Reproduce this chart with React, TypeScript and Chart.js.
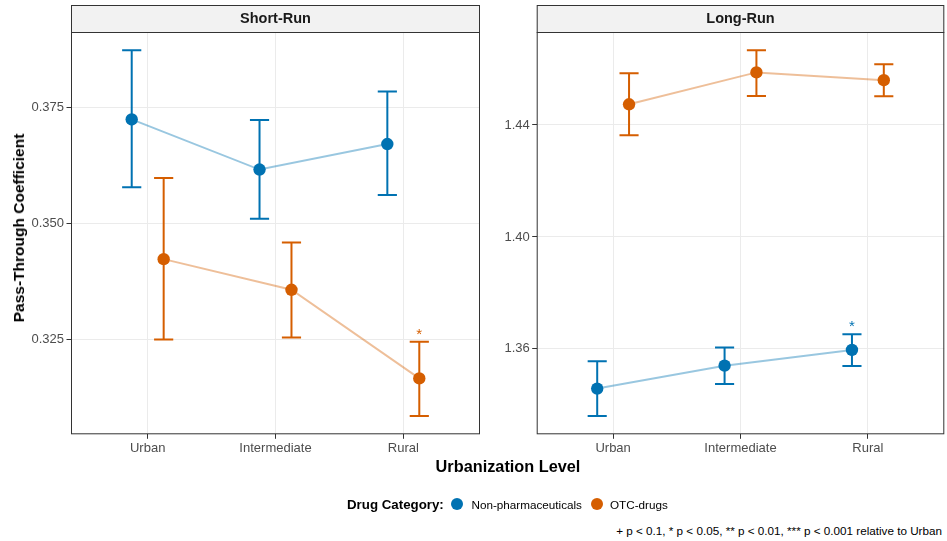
import React, { useEffect, useRef } from 'react';
import { Chart, registerables } from 'chart.js';

Chart.register(...registerables);

const FONT = '"Liberation Sans", Arial, Helvetica, sans-serif';

// ---- data ----
const categories = ['Urban', 'Intermediate', 'Rural'];
const seriesNames = ['Non-pharmaceuticals', 'OTC-drugs'];
const seriesColors = ['#0072B2', '#D55E00'];
const lineColors = ['rgba(0,114,178,0.4)', 'rgba(213,94,0,0.4)'];

// Short-Run
const srNonPharma = [0.3724, 0.3616, 0.3671];
const srNonPharmaLo = [0.3578, 0.351, 0.3561];
const srNonPharmaHi = [0.3873, 0.3723, 0.3784];
const srNonPharmaSig = ['', '', ''];
const srOtc = [0.3423, 0.3357, 0.3166];
const srOtcLo = [0.325, 0.3254, 0.3085];
const srOtcHi = [0.3598, 0.3459, 0.3245];
const srOtcSig = ['', '', '*'];
const srTicks = [0.325, 0.35, 0.375];

// Long-Run
const lrNonPharma = [1.3458, 1.354, 1.3596];
const lrNonPharmaLo = [1.336, 1.3474, 1.3539];
const lrNonPharmaHi = [1.3556, 1.3605, 1.3652];
const lrNonPharmaSig = ['', '', '*'];
const lrOtc = [1.4474, 1.4588, 1.456];
const lrOtcLo = [1.4363, 1.4504, 1.4503];
const lrOtcHi = [1.4585, 1.4667, 1.4617];
const lrOtcSig = ['', '', ''];
const lrTicks = [1.36, 1.4, 1.44];

const dodge = [-0.125, 0.125];
const capHalf = 0.075;

type Series = { est: number[]; lo: number[]; hi: number[]; sig: string[] };

const facetPlugin = {
  id: 'facetDecor',
  beforeDatasetDraw(chart: any, args: any) {
    const ds: any = chart.data.datasets[args.index];
    if (!ds.errLo) return;
    const { ctx } = chart;
    const xs = chart.scales.x;
    const ys = chart.scales.y;
    ctx.save();
    ctx.strokeStyle = ds.errColor;
    ctx.lineWidth = 2;
    ctx.lineCap = 'butt';
    ds.data.forEach((p: any, i: number) => {
      const x = xs.getPixelForValue(p.x);
      const xl = xs.getPixelForValue(p.x - capHalf);
      const xr = xs.getPixelForValue(p.x + capHalf);
      const yl = ys.getPixelForValue(ds.errLo[i]);
      const yh = ys.getPixelForValue(ds.errHi[i]);
      ctx.beginPath();
      ctx.moveTo(x, yl);
      ctx.lineTo(x, yh);
      ctx.moveTo(xl, yl);
      ctx.lineTo(xr, yl);
      ctx.moveTo(xl, yh);
      ctx.lineTo(xr, yh);
      ctx.stroke();
      if (ds.sig[i]) {
        ctx.fillStyle = ds.errColor;
        ctx.font = `15px ${FONT}`;
        ctx.textAlign = 'center';
        ctx.textBaseline = 'alphabetic';
        ctx.fillText(ds.sig[i], x, yh - 3);
      }
    });
    ctx.restore();
  },
  afterDraw(chart: any, _args: any, opts: any) {
    const { ctx, chartArea: a } = chart;
    ctx.save();
    // strip
    ctx.fillStyle = '#F2F2F2';
    ctx.fillRect(a.left, 5, a.right - a.left, a.top - 5);
    ctx.strokeStyle = '#333333';
    ctx.lineWidth = 1;
    ctx.strokeRect(a.left + 0.5, 5.5, a.right - a.left - 1, a.top - 5);
    ctx.fillStyle = '#1A1A1A';
    ctx.font = `bold 14.5px ${FONT}`;
    ctx.textAlign = 'center';
    ctx.textBaseline = 'middle';
    ctx.fillText(opts.title, (a.left + a.right) / 2, (5 + a.top) / 2 + 0.5);
    // panel border
    ctx.strokeRect(a.left + 0.5, a.top + 0.5, a.right - a.left - 1, a.bottom - a.top - 1);
    ctx.restore();
  },
};

function buildChart(
  canvas: HTMLCanvasElement,
  title: string,
  series: Series[],
  yTicks: number[],
  decimals: number,
  yWidth: number,
  padRight: number
) {
  const allLo = Math.min(...series.flatMap((s) => s.lo));
  const allHi = Math.max(...series.flatMap((s) => s.hi));
  const span = allHi - allLo;
  const yMin = allLo - 0.05 * span;
  const yMax = allHi + 0.05 * span;

  const lineSets = series.map((s, k) => ({
    label: seriesNames[k] + ' line',
    data: s.est.map((v, i) => ({ x: i + 1 + dodge[k], y: v })),
    showLine: true,
    borderColor: lineColors[k],
    borderWidth: 2,
    pointRadius: 0,
    pointHoverRadius: 0,
    order: 2,
  }));
  const pointSets = series.map((s, k) => ({
    label: seriesNames[k],
    data: s.est.map((v, i) => ({ x: i + 1 + dodge[k], y: v })),
    showLine: false,
    backgroundColor: seriesColors[k],
    borderColor: seriesColors[k],
    pointRadius: 6.2,
    pointHoverRadius: 6.2,
    pointBorderWidth: 0,
    order: 1,
    errLo: s.lo,
    errHi: s.hi,
    sig: s.sig,
    errColor: seriesColors[k],
  }));

  const tickFont = { family: FONT, size: 13 };

  return new Chart(canvas, {
    type: 'scatter',
    data: { datasets: [...lineSets, ...pointSets] as any },
    plugins: [facetPlugin as any],
    options: {
      animation: false,
      responsive: false,
      maintainAspectRatio: false,
      events: [],
      layout: { autoPadding: false, padding: { top: 32, left: 0, right: padRight, bottom: 0 } },
      plugins: {
        legend: { display: false },
        tooltip: { enabled: false },
        facetDecor: { title },
      } as any,
      scales: {
        x: {
          type: 'linear',
          min: 0.4,
          max: 3.6,
          afterBuildTicks: (s: any) => {
            s.ticks = categories.map((_, i) => ({ value: i + 1 }));
          },
          afterFit: (s: any) => {
            s.height = 45.7;
          },
          ticks: {
            autoSkip: false,
            maxRotation: 0,
            padding: 2,
            color: '#4D4D4D',
            font: tickFont,
            callback: (v: any) => categories[Math.round(v) - 1] ?? '',
          },
          grid: { color: '#EBEBEB', tickColor: '#333333', tickLength: 4.5, lineWidth: 1 },
          border: { display: false },
        },
        y: {
          type: 'linear',
          min: yMin,
          max: yMax,
          afterBuildTicks: (s: any) => {
            s.ticks = yTicks.map((v) => ({ value: v }));
          },
          afterFit: (s: any) => {
            s.width = yWidth;
          },
          ticks: {
            autoSkip: false,
            padding: 2.5,
            color: '#4D4D4D',
            font: tickFont,
            callback: (v: any) => Number(v).toFixed(decimals),
          },
          grid: { color: '#EBEBEB', tickColor: '#333333', tickLength: 4.5, lineWidth: 1 },
          border: { display: false },
        },
      },
    } as any,
  });
}

const Txt = ({
  x,
  y,
  size,
  bold,
  align = 'left',
  children,
}: {
  x: number;
  y: number;
  size: number;
  bold?: boolean;
  align?: 'left' | 'center' | 'right';
  children: React.ReactNode;
}) => {
  const lh = 20;
  const style: React.CSSProperties = {
    position: 'absolute',
    top: y - lh / 2,
    lineHeight: `${lh}px`,
    height: lh,
    fontSize: size,
    fontWeight: bold ? 'bold' : 'normal',
    whiteSpace: 'nowrap',
    color: '#000',
  };
  if (align === 'left') style.left = x;
  else if (align === 'right') style.right = 947 - x;
  else {
    style.left = x;
    style.transform = 'translateX(-50%)';
  }
  return <div style={style}>{children}</div>;
};

export default function App() {
  const leftRef = useRef<HTMLCanvasElement>(null);
  const rightRef = useRef<HTMLCanvasElement>(null);

  useEffect(() => {
    const c1 = buildChart(
      leftRef.current!,
      'Short-Run',
      [
        { est: srNonPharma, lo: srNonPharmaLo, hi: srNonPharmaHi, sig: srNonPharmaSig },
        { est: srOtc, lo: srOtcLo, hi: srOtcHi, sig: srOtcSig },
      ],
      srTicks,
      3,
      71,
      4
    );
    const c2 = buildChart(
      rightRef.current!,
      'Long-Run',
      [
        { est: lrNonPharma, lo: lrNonPharmaLo, hi: lrNonPharmaHi, sig: lrNonPharmaSig },
        { est: lrOtc, lo: lrOtcLo, hi: lrOtcHi, sig: lrOtcSig },
      ],
      lrTicks,
      2,
      52.7,
      2.7
    );
    return () => {
      c1.destroy();
      c2.destroy();
    };
  }, []);

  return (
    <div
      style={{
        position: 'fixed',
        left: 0,
        top: 0,
        width: 947,
        height: 541,
        background: '#fff',
        fontFamily: FONT,
        overflow: 'hidden',
      }}
    >
      <canvas
        ref={leftRef}
        width={484}
        height={480}
        style={{ position: 'absolute', left: 0, top: 0, width: 484, height: 480 }}
      />
      <canvas
        ref={rightRef}
        width={463}
        height={480}
        style={{ position: 'absolute', left: 484, top: 0, width: 463, height: 480 }}
      />
      <div
        style={{
          position: 'absolute',
          left: 19,
          top: 228,
          transform: 'translate(-50%, -50%) rotate(-90deg)',
          fontSize: 15.5,
          fontWeight: 'bold',
          whiteSpace: 'nowrap',
          lineHeight: '20px',
        }}
      >
        Pass-Through Coefficient
      </div>
      <Txt x={508} y={466} size={16.3} bold align="center">
        Urbanization Level
      </Txt>
      <Txt x={347} y={504.5} size={13.3} bold>
        Drug Category:
      </Txt>
      <div
        style={{
          position: 'absolute',
          left: 457 - 6,
          top: 504 - 6,
          width: 12,
          height: 12,
          borderRadius: '50%',
          background: seriesColors[0],
        }}
      />
      <Txt x={471.5} y={504.5} size={11.7}>
        {seriesNames[0]}
      </Txt>
      <div
        style={{
          position: 'absolute',
          left: 597.3 - 6,
          top: 504 - 6,
          width: 12,
          height: 12,
          borderRadius: '50%',
          background: seriesColors[1],
        }}
      />
      <Txt x={610} y={504.5} size={11.7}>
        {seriesNames[1]}
      </Txt>
      <Txt x={942} y={531} size={11.7} align="right">
        + p &lt; 0.1, * p &lt; 0.05, ** p &lt; 0.01, *** p &lt; 0.001 relative to Urban
      </Txt>
    </div>
  );
}
